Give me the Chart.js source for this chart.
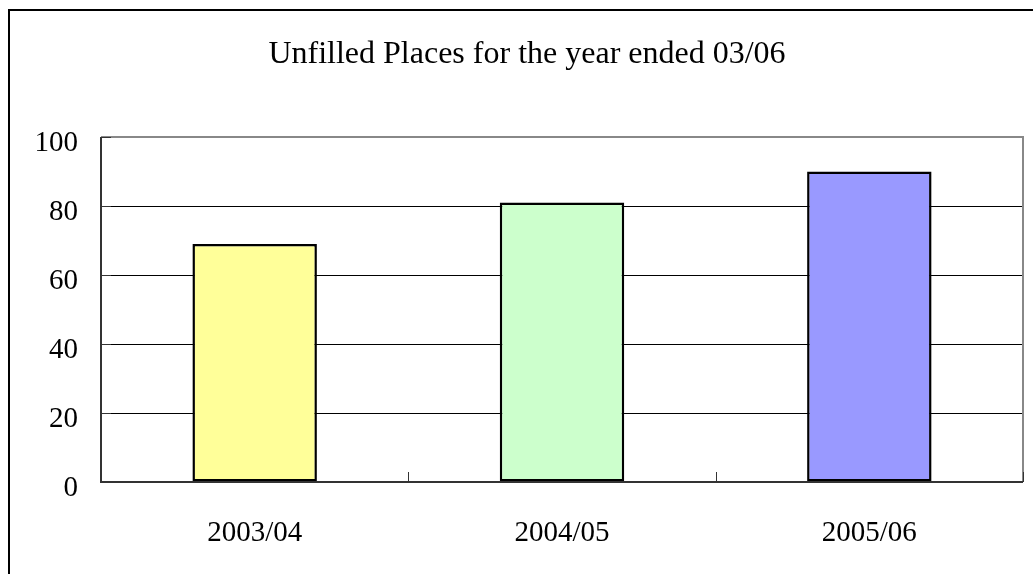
<!DOCTYPE html>
<html>
<head>
<meta charset="utf-8">
<script src="https://cdn.jsdelivr.net/npm/chart.js@4"></script>
<style>
html,body{margin:0;padding:0;background:#fff;}
#wrap{position:relative;width:1033px;height:574px;}
</style>
</head>
<body>
<div id="wrap"><canvas id="c" width="1033" height="574"></canvas></div>
<script>
const titleText = 'Unfilled Places for the year ended 03/06';
const categories = ['2003/04', '2004/05', '2005/06'];
const values = [69, 81, 90];
const barColors = ['#FFFF99', '#CCFFCC', '#9999FF'];
const yTicks = [0, 20, 40, 60, 80, 100];

const FONT = "'Liberation Serif', 'Times New Roman', serif";

const framePlugin = {
  id: 'frame',
  beforeDraw(chart) {
    const ctx = chart.ctx;
    ctx.save();
    ctx.fillStyle = '#fff';
    ctx.fillRect(0, 0, chart.width, chart.height);
    ctx.strokeStyle = '#000';
    ctx.lineWidth = 2;
    ctx.beginPath();
    ctx.moveTo(9, chart.height + 5);
    ctx.lineTo(9, 10);
    ctx.lineTo(chart.width + 5, 10);
    ctx.stroke();
    ctx.restore();
  },
  afterDraw(chart) {
    const ctx = chart.ctx;
    const a = chart.chartArea;
    const x = chart.scales.x;
    ctx.save();
    ctx.strokeStyle = '#888';
    ctx.lineWidth = 2;
    ctx.beginPath();
    ctx.moveTo(a.left, a.top);
    ctx.lineTo(a.right, a.top);
    ctx.lineTo(a.right, a.bottom);
    ctx.stroke();
    ctx.strokeStyle = '#333';
    ctx.lineWidth = 2;
    ctx.beginPath();
    ctx.moveTo(a.left, a.top);
    ctx.lineTo(a.left, a.bottom);
    ctx.lineTo(a.right, a.bottom);
    ctx.stroke();
    ctx.lineWidth = 1;
    ctx.strokeStyle = '#333';
    ctx.beginPath();
    for (let i = 0; i <= categories.length; i++) {
      const px = Math.round(x.getPixelForValue(i - 0.5)) + 0.5;
      ctx.moveTo(px, a.bottom);
      ctx.lineTo(px, a.bottom - 10);
    }
    const y = chart.scales.y;
    yTicks.forEach(v => {
      const py = Math.round(y.getPixelForValue(v)) + 0.5;
      ctx.moveTo(a.left, py);
      ctx.lineTo(a.left + 10, py);
    });
    ctx.stroke();
    ctx.restore();
  }
};

new Chart(document.getElementById('c'), {
  type: 'bar',
  data: {
    labels: categories,
    datasets: [{
      data: values,
      backgroundColor: barColors,
      borderColor: '#000',
      borderWidth: 2.5,
      borderSkipped: false,
      categoryPercentage: 1.0,
      barPercentage: 0.405
    }]
  },
  options: {
    responsive: false,
    animation: false,
    devicePixelRatio: 1,
    layout: { padding: { left: 31, right: 10, top: 0, bottom: 0 } },
    plugins: {
      legend: { display: false },
      tooltip: { enabled: false },
      title: {
        display: true,
        text: titleText,
        color: '#000',
        font: { family: FONT, size: 32, weight: 'normal', lineHeight: 1.2 },
        padding: { top: 35, bottom: 63.6 }
      }
    },
    scales: {
      x: {
        grid: { display: false, drawTicks: false },
        border: { display: false },
        ticks: {
          color: '#000',
          padding: 34,
          font: { family: FONT, size: 29 }
        },
        afterFit(s) { s.height = 92; }
      },
      y: {
        min: 0,
        max: 100,
        afterBuildTicks(s) { s.ticks = yTicks.map(v => ({ value: v })); },
        grid: { color: '#000', lineWidth: 1, drawTicks: false },
        border: { display: false },
        ticks: {
          color: '#000',
          padding: 23,
          labelOffset: 6,
          font: { family: FONT, size: 29 }
        },
        afterFit(s) { s.width = 70; }
      }
    }
  },
  plugins: [framePlugin]
});
</script>
</body>
</html>
